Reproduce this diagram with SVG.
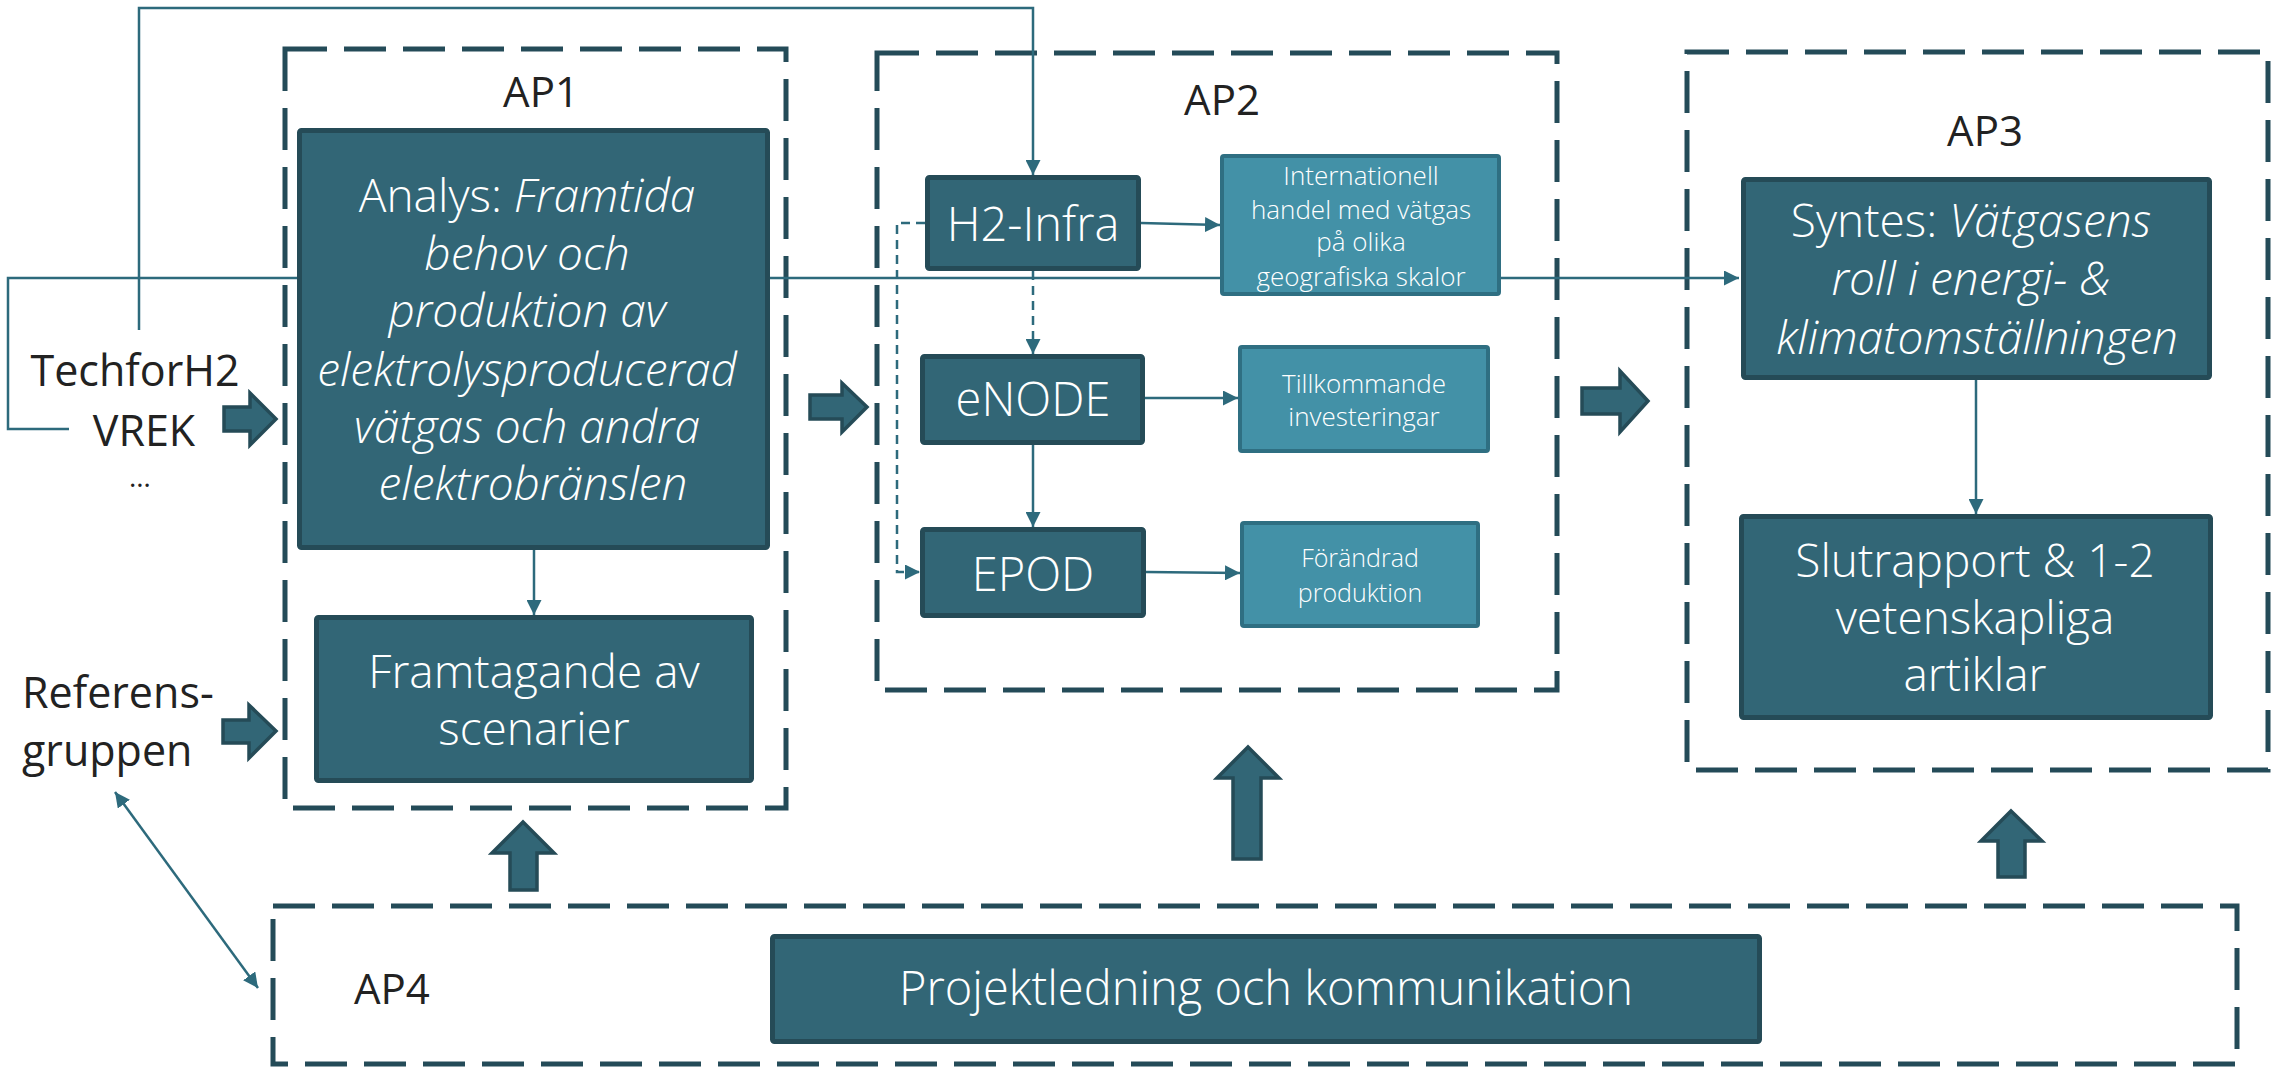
<svg xmlns="http://www.w3.org/2000/svg" width="2271" height="1067" viewBox="0 0 2271 1067">
<defs>
<style>
.grp{fill:none;stroke:#244b58;stroke-width:5;stroke-dasharray:42 17}
.dark{fill:#326676;stroke:#254b57;stroke-width:5}
.light{fill:#4391a7;stroke:#2f6f82;stroke-width:4}
.fat{fill:#326676;stroke:#254b57;stroke-width:3.5;stroke-linejoin:miter}
.con{fill:none;stroke:#2d6a7c;stroke-width:2.5}
.dsh{stroke-dasharray:9 6}
text{font-family:"Open Sans","Noto Sans","Liberation Sans",sans-serif}
.wt{fill:#ffffff;text-anchor:middle;font-weight:300}
.bk{fill:#222222}
.it{font-style:italic}
</style>
<marker id="ah" viewBox="0 0 10 10" refX="10" refY="5" markerWidth="15" markerHeight="15" markerUnits="userSpaceOnUse" orient="auto-start-reverse">
<path d="M0,0 L10,5 L0,10 z" fill="#2d6a7c"/>
</marker>
</defs>
<rect width="2271" height="1067" fill="#ffffff"/>

<g id="groups">
<rect id="ap1-box" class="grp" x="285" y="49" width="501" height="759"/>
<rect id="ap2-box" class="grp" x="877" y="53" width="680" height="637"/>
<rect id="ap3-box" class="grp" x="1687" y="52" width="581" height="718"/>
<rect id="ap4-box" class="grp" x="273" y="906" width="1964" height="158"/>
</g>

<g id="connectors">
<path class="con" d="M139,330 V8 H1033 V175" marker-end="url(#ah)"/>
<path class="con" d="M69,429 H8 V278 H1739" marker-end="url(#ah)"/>
<path class="con" d="M1141,223 L1220,225" marker-end="url(#ah)"/>
<path class="con dsh" d="M1033,271 V354" marker-end="url(#ah)"/>
<path class="con dsh" d="M925,223 H897 V572 H920" marker-end="url(#ah)"/>
<path class="con" d="M1145,398 H1238" marker-end="url(#ah)"/>
<path class="con" d="M1033,445 V527" marker-end="url(#ah)"/>
<path class="con" d="M1146,572 L1240,573" marker-end="url(#ah)"/>
<path class="con" d="M534,550 V615" marker-end="url(#ah)"/>
<path class="con" d="M1976,380 V514" marker-end="url(#ah)"/>
<path class="con" d="M115,792 L258,988" marker-start="url(#ah)" marker-end="url(#ah)"/>
<path class="fat" d="M224,407 H250 V393 L276,419 L250,445 V431 H224 Z"/>
<path class="fat" d="M223,720 H249 V705 L276,731 L249,758 V743 H223 Z"/>
<path class="fat" d="M810,395 H842 V383 L867,407 L842,432 V419 H810 Z"/>
<path class="fat" d="M1582,388 H1620 V371 L1648,401 L1620,432 V414 H1582 Z"/>
<path class="fat" d="M523,822 L554,853 H537 V890 H510 V853 H492 Z"/>
<path class="fat" d="M1248,747 L1279,778 H1261 V859 H1233 V778 H1217 Z"/>
<path class="fat" d="M2011,811 L2042,841 H2025 V877 H1998 V841 H1981 Z"/>
</g>

<g id="labels">
<text class="bk" x="541" y="107" font-size="42" text-anchor="middle">AP1</text>
<text class="bk" x="1222" y="115" font-size="42" text-anchor="middle">AP2</text>
<text class="bk" x="1985" y="146" font-size="42" text-anchor="middle">AP3</text>
<text class="bk" x="354" y="1004" font-size="42">AP4</text>
</g>

<g id="inputs">
<text class="bk" x="135" y="386" font-size="43" text-anchor="middle">TechforH2</text>
<text class="bk" x="144" y="446" font-size="43" text-anchor="middle">VREK</text>
<text class="bk" x="140" y="487" font-size="28" text-anchor="middle">…</text>
</g>

<g id="referensgruppen">
<text class="bk" x="22" y="708" font-size="43">Referens-</text>
<text class="bk" x="22" y="766" font-size="43">gruppen</text>
</g>

<g id="analys">
<rect class="dark" x="299.5" y="130.5" width="468" height="417" rx="2"/>
<text class="wt" x="533" font-size="46">
<tspan x="533" y="212">Analys: <tspan class="it">Framtida</tspan></tspan>
<tspan class="it" x="533" y="270">behov och</tspan>
<tspan class="it" x="533" y="327">produktion av</tspan>
<tspan class="it" x="533" y="386">elektrolysproducerad</tspan>
<tspan class="it" x="533" y="443">vätgas och andra</tspan>
<tspan class="it" x="533" y="500">elektrobränslen</tspan>
</text>
</g>

<g id="framtagande">
<rect class="dark" x="316.5" y="617.5" width="435" height="163" rx="2"/>
<text class="wt" font-size="46"><tspan x="534" y="688">Framtagande av</tspan><tspan x="534" y="745">scenarier</tspan></text>
</g>

<g id="h2infra">
<rect class="dark" x="927.5" y="177.5" width="211" height="91" rx="2"/>
<text class="wt" x="1033" y="241" font-size="47">H2-Infra</text>
</g>

<g id="internationell">
<rect class="light" x="1222" y="156" width="277" height="138" rx="2"/>
<text class="wt" font-size="26"><tspan x="1361" y="185">Internationell</tspan><tspan x="1361" y="219">handel med vätgas</tspan><tspan x="1361" y="251">på olika</tspan><tspan x="1361" y="286">geografiska skalor</tspan></text>
</g>

<g id="enode">
<rect class="dark" x="922.5" y="356.5" width="220" height="86" rx="2"/>
<text class="wt" x="1033" y="416" font-size="47">eNODE</text>
</g>

<g id="tillkommande">
<rect class="light" x="1240" y="347" width="248" height="104" rx="2"/>
<text class="wt" font-size="26"><tspan x="1364" y="393">Tillkommande</tspan><tspan x="1364" y="426">investeringar</tspan></text>
</g>

<g id="epod">
<rect class="dark" x="922.5" y="529.5" width="221" height="86" rx="2"/>
<text class="wt" x="1033" y="591" font-size="47">EPOD</text>
</g>

<g id="forandrad">
<rect class="light" x="1242" y="523" width="236" height="103" rx="2"/>
<text class="wt" font-size="25"><tspan x="1360" y="567">Förändrad</tspan><tspan x="1360" y="602">produktion</tspan></text>
</g>

<g id="syntes">
<rect class="dark" x="1743.5" y="179.5" width="466" height="198" rx="2"/>
<text class="wt" font-size="46">
<tspan x="1977" y="237">Syntes: <tspan class="it">Vätgasens</tspan></tspan>
<tspan class="it" x="1977" y="295">roll i energi- &amp;</tspan>
<tspan class="it" x="1977" y="354">klimatomställningen</tspan>
</text>
</g>

<g id="slutrapport">
<rect class="dark" x="1741.5" y="516.5" width="469" height="201" rx="2"/>
<text class="wt" font-size="46"><tspan x="1975" y="577">Slutrapport &amp; 1-2</tspan><tspan x="1975" y="634">vetenskapliga</tspan><tspan x="1975" y="691">artiklar</tspan></text>
</g>

<g id="projektledning">
<rect class="dark" x="772.5" y="936.5" width="987" height="105" rx="2"/>
<text class="wt" x="1266" y="1005" font-size="47">Projektledning och kommunikation</text>
</g>
</svg>
